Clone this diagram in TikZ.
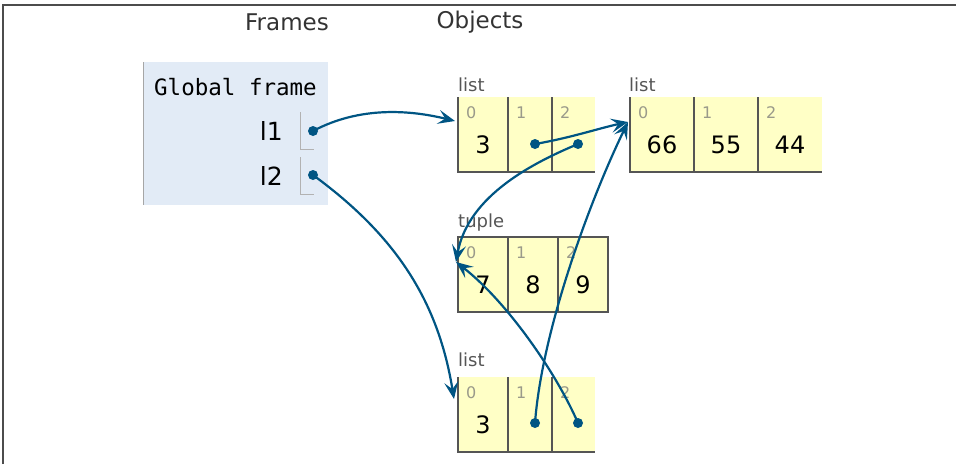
\documentclass[tikz,border=0pt]{standalone}
\usepackage{fontspec}
\setmainfont{DejaVu Sans}
\newfontfamily\monof{DejaVu Sans Mono}
\usetikzlibrary{arrows.meta}
\definecolor{ptr}{HTML}{005583}
\definecolor{cellbg}{HTML}{FFFFC6}
\definecolor{framebg}{HTML}{E2EBF6}
\definecolor{idxc}{HTML}{9A9A8A}
\definecolor{typc}{HTML}{555555}
\definecolor{brd}{HTML}{555555}
\tikzset{
  hdr/.style={font=\fontsize{23}{26}\selectfont, text=black!80, inner sep=0pt},
  varlbl/.style={font=\fontsize{25}{28}\selectfont, anchor=east, inner sep=0pt},
  typlbl/.style={font=\fontsize{18}{20}\selectfont, text=typc, anchor=west, inner sep=0pt},
  idx/.style={font=\fontsize{16}{18}\selectfont, text=idxc, anchor=west, inner sep=0pt},
  val/.style={font=\fontsize{24}{26}\selectfont, inner sep=0pt},
  dot/.style={circle, fill=ptr, inner sep=0pt, minimum size=10pt},
  ptrline/.style={draw=ptr, line width=2.2pt, -{Stealth[length=17pt,width=14pt,inset=7pt]}},
  cellborder/.style={draw=brd, line width=1.3pt},
  slot/.style={draw=black!30, line width=1pt},
}
% list cell: name, x, y, width, index, value
\newcommand\lcell[6]{%
  \fill[cellbg] (#2,#3) rectangle (#2+#4,#3+75);
  \draw[cellborder] (#2,#3) -- (#2,#3+75) -- (#2+#4,#3+75);
  \node[idx] (#1i) at (#2+8,#3+16) {#5};
  \node[val] (#1) at (#2+#4/2,#3+48) {#6};
}
\begin{document}
\begin{tikzpicture}[x=1pt,y=-1pt]
\useasboundingbox (0,0) rectangle (956,464);
\draw[line width=2pt, black!70] (3,464) -- (3,5) -- (957,5);

\node[hdr] (frames) at (287,22) {Frames};
\node[hdr] (objects) at (480,22) {Objects};

% global frame
\fill[framebg] (143,62) rectangle (328,205);
\draw[black!35, line width=1.2pt] (143.6,62) -- (143.6,205);
\node[font=\monof\fontsize{22.5}{25}\selectfont, anchor=west, inner sep=0pt] (gf) at (154,87) {Global frame};
\node[varlbl] (l1) at (283,131) {l1};
\node[varlbl] (l2) at (283,176) {l2};
\draw[slot] (300,112) -- (300,149) -- (314,149);
\draw[slot] (300,157) -- (300,194) -- (314,194);
\node[dot] (d1) at (313,131) {};
\node[dot] (d2) at (313,175) {};

% list A
\node[typlbl] (tA) at (458,85) {list};
\lcell{a0}{458}{97}{50}{0}{3}
\lcell{a1}{508}{97}{44}{1}{}
\lcell{a2}{552}{97}{43}{2}{}
\node[dot] (da1) at (535,144) {};
\node[dot] (da2) at (578,144) {};
\coordinate (inA) at (455,121);

% list B
\node[typlbl] (tB) at (629,85) {list};
\lcell{b0}{630}{97}{64}{0}{66}
\lcell{b1}{694}{97}{64}{1}{55}
\lcell{b2}{758}{97}{64}{2}{44}
\coordinate (inB) at (628,122);

% tuple
\node[typlbl] (tT) at (458,223) {tuple};
\fill[cellbg] (458,237) rectangle (608,312);
\draw[cellborder] (458,237) rectangle (608,312);
\draw[cellborder] (508,237) -- (508,312) (558,237) -- (558,312);
\node[idx] (t0i) at (466,253) {0};
\node[idx] (t1i) at (516,253) {1};
\node[idx] (t2i) at (566,253) {2};
\node[val] (t0) at (483,285) {7};
\node[val] (t1) at (533,285) {8};
\node[val] (t2) at (583,285) {9};
\coordinate (inT) at (456,262);

% list C
\node[typlbl] (tC) at (458,360) {list};
\lcell{c0}{458}{377}{50}{0}{3}
\lcell{c1}{508}{377}{44}{1}{}
\lcell{c2}{552}{377}{43}{2}{}
\node[dot] (dc1) at (535,423) {};
\node[dot] (dc2) at (578,423) {};
\coordinate (inC) at (454,399);

% pointers
\draw[ptrline] (d1.center) .. controls (360,106) and (410,110) .. (inA);
\draw[ptrline] (d2.center) .. controls (395,235) and (438,300) .. (inC);
\draw[ptrline] (da1.center) .. controls (570,138) and (600,128) .. (inB);
\draw[ptrline] (da2.center) .. controls (535,162) and (468,195) .. (inT);
\draw[ptrline] (dc1.center) .. controls (542,330) and (590,200) .. (inB);
\draw[ptrline] (dc2.center) .. controls (555,370) and (505,300) .. (inT);
\end{tikzpicture}
\end{document}
